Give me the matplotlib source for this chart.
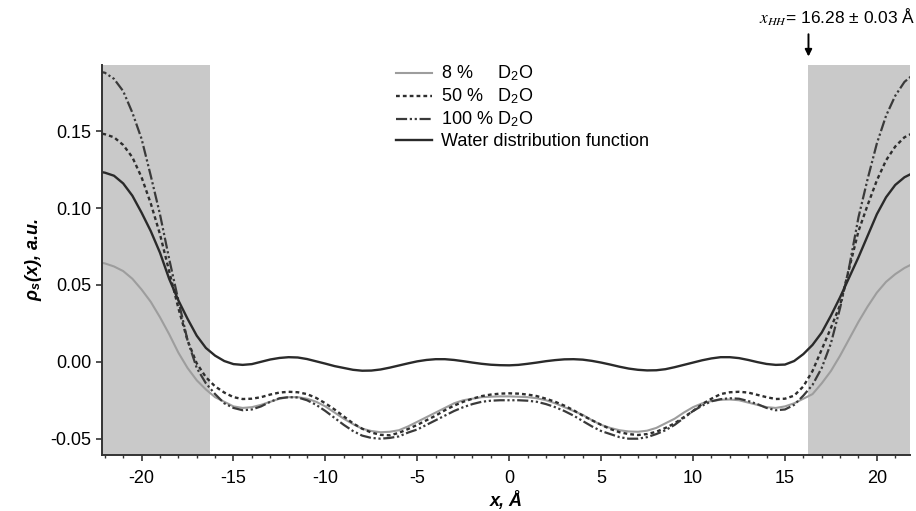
import numpy as np
import matplotlib
matplotlib.use('Agg')
import matplotlib.pyplot as plt
from matplotlib.ticker import MultipleLocator, FormatStrFormatter

plt.rcParams['font.family'] = ['Liberation Sans', 'DejaVu Sans']
plt.rcParams['mathtext.fontset'] = 'stix'
plt.rcParams['axes.unicode_minus'] = False

# position across the bilayer, Angstrom
x = np.arange(-22.5, 22.51, 0.5)

rho_8 = [0.065, 0.064, 0.062, 0.059, 0.054, 0.047, 0.039, 0.029, 0.018, 0.006,
         -0.004, -0.012, -0.018, -0.023, -0.026, -0.029, -0.030, -0.0295, -0.028, -0.026,
         -0.024, -0.023, -0.023, -0.024, -0.026, -0.029, -0.033, -0.037, -0.0405, -0.0435,
         -0.045, -0.0458, -0.0455, -0.0445, -0.042, -0.039, -0.036, -0.033, -0.030, -0.027,
         -0.025, -0.024, -0.023, -0.0227, -0.0225, -0.0225, -0.0227, -0.023, -0.0237, -0.025,
         -0.027, -0.0295, -0.032, -0.0345, -0.038, -0.041, -0.043, -0.0445, -0.0453, -0.0455,
         -0.0448, -0.043, -0.040, -0.037, -0.033, -0.0295, -0.027, -0.0255, -0.0247, -0.0245,
         -0.025, -0.0265, -0.028, -0.0295, -0.030, -0.029, -0.027, -0.024, -0.021, -0.014,
         -0.006, 0.004, 0.015, 0.026, 0.036, 0.045, 0.052, 0.057, 0.061, 0.064,
         0.065]

rho_50 = [0.149, 0.148, 0.146, 0.141, 0.133, 0.120, 0.103, 0.083, 0.059, 0.035,
          0.014, -0.001, -0.010, -0.016, -0.020, -0.023, -0.0242, -0.024, -0.023, -0.0213,
          -0.020, -0.0195, -0.0198, -0.021, -0.0235, -0.027, -0.031, -0.0355, -0.040, -0.0435,
          -0.046, -0.0475, -0.0478, -0.0462, -0.0437, -0.041, -0.038, -0.035, -0.0315, -0.0285,
          -0.026, -0.024, -0.0223, -0.0213, -0.0207, -0.0205, -0.0207, -0.0213, -0.0223, -0.024,
          -0.026, -0.0285, -0.0315, -0.035, -0.038, -0.041, -0.0437, -0.0458, -0.047, -0.0476,
          -0.047, -0.0455, -0.043, -0.040, -0.036, -0.032, -0.0275, -0.024, -0.021, -0.0198,
          -0.0195, -0.020, -0.0215, -0.023, -0.0242, -0.024, -0.022, -0.016, -0.006, 0.008,
          0.022, 0.037, 0.061, 0.085, 0.102, 0.118, 0.131, 0.140, 0.146, 0.149,
          0.150]

rho_100 = [0.189, 0.188, 0.184, 0.176, 0.162, 0.145, 0.121, 0.096, 0.067, 0.040,
           0.014, -0.004, -0.014, -0.021, -0.027, -0.030, -0.0315, -0.031, -0.029, -0.026,
           -0.0237, -0.023, -0.0232, -0.025, -0.028, -0.032, -0.0365, -0.041, -0.045, -0.048,
           -0.0495, -0.050, -0.0495, -0.0485, -0.046, -0.044, -0.041, -0.038, -0.035, -0.032,
           -0.0295, -0.0275, -0.026, -0.0253, -0.025, -0.025, -0.025, -0.0253, -0.026, -0.0275,
           -0.0295, -0.032, -0.035, -0.0385, -0.042, -0.045, -0.047, -0.049, -0.050, -0.050,
           -0.049, -0.047, -0.0445, -0.041, -0.0365, -0.032, -0.0285, -0.0257, -0.0243, -0.0237,
           -0.024, -0.0255, -0.0275, -0.030, -0.0315, -0.031, -0.028, -0.022, -0.015, -0.004,
           0.012, 0.035, 0.062, 0.094, 0.119, 0.142, 0.160, 0.173, 0.182, 0.187,
           0.189]

water = [0.124, 0.123, 0.121, 0.116, 0.108, 0.097, 0.085, 0.071, 0.054, 0.040,
         0.028, 0.017, 0.009, 0.004, 0.0005, -0.0015, -0.002, -0.0015, 0.000, 0.0015,
         0.0025, 0.003, 0.0028, 0.0018, 0.0003, -0.0012, -0.0028, -0.004, -0.0052, -0.0058,
         -0.0057, -0.005, -0.0038, -0.0024, -0.001, 0.0003, 0.0012, 0.0017, 0.0017, 0.0012,
         0.0004, -0.0005, -0.0013, -0.0019, -0.0022, -0.0023, -0.002, -0.0013, -0.0005, 0.0004,
         0.0011, 0.0016, 0.0017, 0.0014, 0.0006, -0.0005, -0.0018, -0.0032, -0.0044, -0.0052,
         -0.0056, -0.0055, -0.0048, -0.0035, -0.002, -0.0005, 0.001, 0.0022, 0.003, 0.003,
         0.0024, 0.0012, -0.0002, -0.0014, -0.002, -0.0018, 0.0005, 0.005, 0.011, 0.019,
         0.030, 0.042, 0.055, 0.068, 0.082, 0.096, 0.107, 0.115, 0.120, 0.123,
         0.124]

x_hh = 16.28

fig = plt.figure(figsize=(9.16, 5.11), dpi=100)
ax = fig.add_axes([0.1114, 0.1096, 0.882, 0.7632])
xlim = (-22.15, 21.8)
ax.set_xlim(*xlim)
ax.set_ylim(-0.0606, 0.193)

# headgroup regions beyond x_HH
ax.axvspan(xlim[0], -x_hh, color='#c9c9c9', lw=0, zorder=0)
ax.axvspan(x_hh, xlim[1], color='#c9c9c9', lw=0, zorder=0)

ax.plot(x, rho_8, color='#9d9d9d', lw=1.5, label='8 %     D$_\\mathregular{2}$O')
ax.plot(x, rho_50, color='#2e2e2e', lw=1.7, linestyle=(0, (1.6, 1.3)),
        label='50 %   D$_\\mathregular{2}$O')
ax.plot(x, rho_100, color='#3a3a3a', lw=1.6,
        linestyle=(0, (5, 1.2, 1, 1.2, 1, 1.2)), label='100 % D$_\\mathregular{2}$O')
ax.plot(x, water, color='#2a2a2a', lw=1.7, label='Water distribution function')

for side in ['top', 'right']:
    ax.spines[side].set_visible(False)
for side in ['left', 'bottom']:
    ax.spines[side].set_color('#333333')
    ax.spines[side].set_linewidth(1.4)

ax.xaxis.set_major_locator(MultipleLocator(5))
ax.xaxis.set_minor_locator(MultipleLocator(1))
ax.yaxis.set_major_locator(MultipleLocator(0.05))
ax.yaxis.set_major_formatter(FormatStrFormatter('%.2f'))
ax.tick_params(which='major', direction='out', length=4.5, width=1.2,
               colors='#333333', labelcolor='black', labelsize=13, pad=3)
ax.tick_params(which='minor', direction='out', length=2.5, width=1.0, colors='#333333')
ax.tick_params(axis='x', pad=6)

ax.set_xlabel('x, Å', fontsize=13, fontweight='bold', style='italic', labelpad=3)
ax.set_ylabel('ρ$_\\mathregular{s}$(x), a.u.', fontsize=13, fontweight='bold',
              style='italic', labelpad=5)

leg = ax.legend(loc='upper left', bbox_to_anchor=(396 / 916, 1 - 64 / 511),
                bbox_transform=fig.transFigure, frameon=False, fontsize=13,
                handlelength=2.0, handletextpad=0.5, labelspacing=0.2,
                borderaxespad=0, borderpad=0)

ax.annotate('', xy=(x_hh, 0.1985), xytext=(x_hh, 0.213),
            arrowprops=dict(arrowstyle='-|>', color='black', lw=1.4,
                            mutation_scale=10, shrinkA=0, shrinkB=0),
            annotation_clip=False)
fig.text(0.999, 1 - 17 / 511, '$x_{HH}$= 16.28 ± 0.03 Å', ha='right', va='center',
         fontsize=12.5)

fig.savefig('out.png', dpi=100)
